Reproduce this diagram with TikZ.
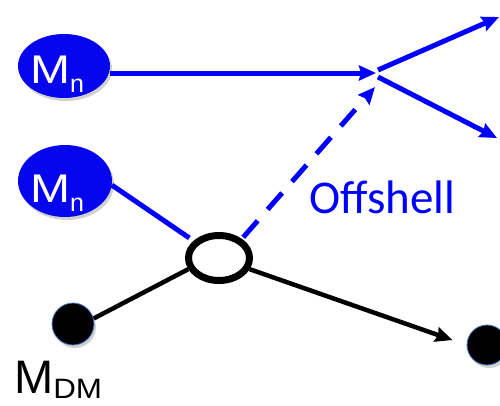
\documentclass[tikz,border=0pt]{standalone}
\usepackage{fontspec}
\setmainfont{Liberation Sans}
\newfontfamily\labelfont{Carlito}
\usetikzlibrary{arrows.meta,shapes.geometric,shadows}
\definecolor{partblue}{RGB}{6,6,238}
\definecolor{lineblue}{RGB}{0,0,255}
\definecolor{rimblue}{RGB}{70,120,200}
\newcommand{\mnlabel}{\scalebox{1.2}[1]{\fontsize{40}{40}\selectfont M}\raisebox{-9pt}{\fontsize{25}{25}\selectfont n}}
\begin{document}
\begin{tikzpicture}[x=1pt,y=-1pt,
  softshadow/.style={drop shadow={shadow xshift=2pt,shadow yshift=-3pt,opacity=0.18,fill=black}},
  particle/.style={ellipse,fill=partblue,inner sep=0pt,softshadow},
  ring/.style={ellipse,draw=black,line width=7pt,fill=white,inner sep=0pt,softshadow},
  dmdot/.style={circle,fill=black,draw=rimblue,line width=0.8pt,inner sep=0pt,softshadow},
  tip/.style={-{Stealth[length=17pt,width=15pt,inset=2pt]}},
  blueline/.style={draw=lineblue,line width=5pt},
  blackline/.style={draw=black,line width=4.5pt},
  subtext/.style={inner sep=0pt,anchor=base west}]
\useasboundingbox (0,0) rectangle (500,405);

% particles and vertex
\node[particle,minimum width=92pt,minimum height=64pt] (n1) at (64,66) {};
\node[particle,minimum width=94pt,minimum height=72pt] (n2) at (65,181) {};
\node[ring,minimum width=61pt,minimum height=45pt] (c) at (219,258) {};
\node[dmdot,minimum size=42pt] (d1) at (73,324) {};
\node[dmdot,minimum size=40pt] (d2) at (487,345) {};

\coordinate (v) at (376,73);
\coordinate (voff) at (375,87);
\coordinate (o1) at (499,17);
\coordinate (o2) at (497,138);

% labels
\node[subtext,text=white] (t1) at (30,83) {\mnlabel};
\node[subtext,text=white] (t2) at (30,202) {\mnlabel};
\node[subtext] (t3) at (14,393)
  {\fontsize{47}{47}\selectfont M\raisebox{-5pt}{\scalebox{1.12}[1]{\fontsize{28}{28}\selectfont DM}}};
\node[subtext,text=lineblue] (t4) at (309,213)
  {\labelfont\fontsize{47}{47}\selectfont Offshell};

% connectors
\draw[blueline,tip] (n1.east |- v) -- (v);
\draw[blueline,tip] ([shift={(2,-3)}]v) -- (o1);
\draw[blueline,tip] ([shift={(2,4)}]v) -- (o2);
\draw[blueline,tip,dash pattern=on 22pt off 15pt,shorten <=2pt] (c.40) -- (voff);
\draw[blueline,shorten >=5pt] (n2.-5) -- (c.146);
\draw[blackline] (d1.15) -- (c.200);
\draw[blackline,tip,shorten >=15pt] (c.-20) -- (d2.west);
\end{tikzpicture}
\end{document}
